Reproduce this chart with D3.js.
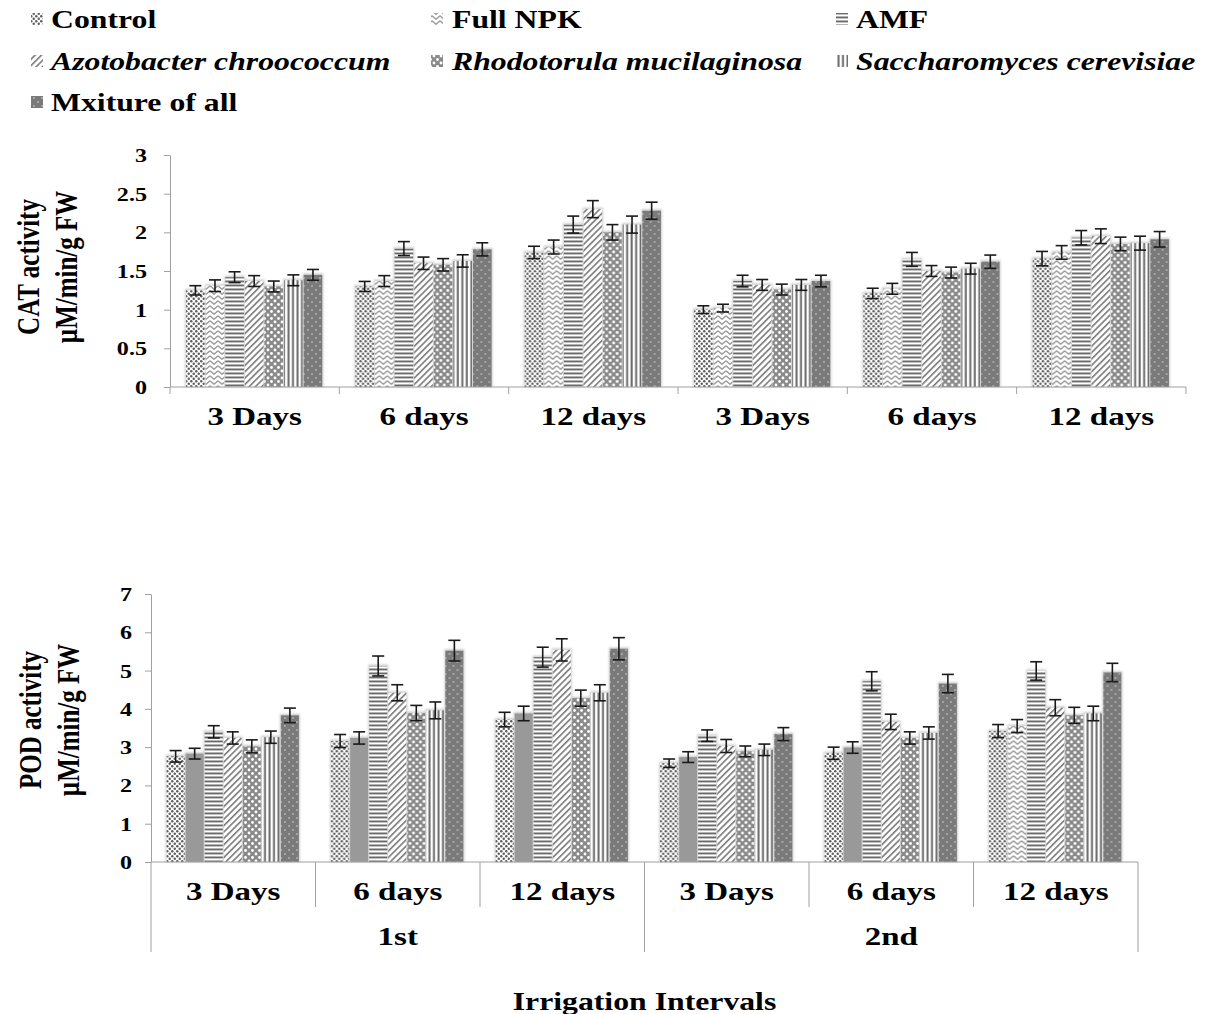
<!DOCTYPE html>
<html>
<head>
<meta charset="utf-8">
<script src="https://d3js.org/d3.v7.min.js"></script>
<style>
  body { margin: 0; background: #fff; }
  text { font-family: "Liberation Serif", "Times New Roman", serif; font-weight: bold; fill: #000; }
</style>
</head>
<body>
<div id="my_dataviz"></div>
<script>
// ---- data ----
const series = ["Control", "Full NPK", "AMF", "Azotobacter chroococcum",
  "Rhodotorula mucilaginosa", "Saccharomyces cerevisiae", "Mxiture of all"];
const italicSeries = ["Azotobacter chroococcum", "Rhodotorula mucilaginosa", "Saccharomyces cerevisiae"];
const intervals = ["3 Days", "6 days", "12 days", "3 Days", "6 days", "12 days"];
const irrigations = ["1st", "2nd"];
const xTitle = "Irrigation Intervals";

const catTicks = [0, 0.5, 1, 1.5, 2, 2.5, 3];
const podTicks = [0, 1, 2, 3, 4, 5, 6, 7];

// one row per interval, one value per series
const catValues = [
  [1.25, 1.31, 1.42, 1.37, 1.30, 1.38, 1.45],
  [1.30, 1.37, 1.79, 1.60, 1.58, 1.63, 1.78],
  [1.74, 1.81, 2.10, 2.30, 2.00, 2.10, 2.28],
  [1.00, 1.02, 1.37, 1.32, 1.26, 1.32, 1.37],
  [1.21, 1.27, 1.65, 1.50, 1.48, 1.53, 1.62],
  [1.66, 1.74, 1.93, 1.95, 1.85, 1.86, 1.91]
];
const catErrors = [
  [0.06, 0.075, 0.07, 0.07, 0.07, 0.07, 0.07],
  [0.065, 0.07, 0.09, 0.08, 0.08, 0.08, 0.085],
  [0.08, 0.09, 0.11, 0.11, 0.10, 0.11, 0.11],
  [0.05, 0.05, 0.075, 0.07, 0.07, 0.07, 0.075],
  [0.067, 0.07, 0.09, 0.07, 0.07, 0.07, 0.086],
  [0.093, 0.088, 0.093, 0.095, 0.088, 0.09, 0.10]
];
const podValues = [
  [2.76, 2.83, 3.40, 3.24, 3.02, 3.26, 3.83],
  [3.16, 3.24, 5.12, 4.42, 3.89, 3.96, 5.52],
  [3.72, 3.88, 5.35, 5.54, 4.28, 4.42, 5.57],
  [2.58, 2.74, 3.30, 3.03, 2.89, 2.93, 3.34],
  [2.84, 2.99, 4.72, 3.66, 3.24, 3.37, 4.66],
  [3.42, 3.55, 4.99, 4.03, 3.83, 3.88, 4.95]
];
const podErrors = [
  [0.15, 0.14, 0.16, 0.16, 0.17, 0.16, 0.19],
  [0.17, 0.16, 0.26, 0.21, 0.20, 0.22, 0.27],
  [0.19, 0.19, 0.26, 0.29, 0.21, 0.21, 0.29],
  [0.11, 0.14, 0.15, 0.17, 0.14, 0.15, 0.17],
  [0.16, 0.15, 0.25, 0.20, 0.16, 0.16, 0.24],
  [0.17, 0.17, 0.24, 0.21, 0.21, 0.19, 0.24]
];

// the picture is stretched sideways, so text gets the same stretch
const SX = 1.27;
const axisGrey = "#a0a0a0";

const svg = d3.select("#my_dataviz")
  .append("svg")
    .attr("width", 1209)
    .attr("height", 1014);

// ---- fill patterns ----
const defs = svg.append("defs");
const patIds = ["p-control", "p-npk", "p-amf", "p-azoto", "p-rhodo", "p-sacch", "p-mix"];

function pattern(id, w, h, bg) {
  const p = defs.append("pattern").attr("id", id)
    .attr("patternUnits", "userSpaceOnUse").attr("width", w).attr("height", h);
  p.append("rect").attr("width", w).attr("height", h).attr("fill", bg);
  return p;
}
let p = pattern("p-control", 5, 5, "#fff");
p.append("circle").attr("cx", 1.25).attr("cy", 1.25).attr("r", 1.25).attr("fill", "#5e5e5e");
p.append("circle").attr("cx", 3.75).attr("cy", 3.75).attr("r", 1.25).attr("fill", "#5e5e5e");

p = pattern("p-npk", 8, 5, "#fff");
p.append("path").attr("d", "M0,0.8 L4,4.2 L8,0.8").attr("fill", "none")
  .attr("stroke", "#9c9c9c").attr("stroke-width", 1.5);

p = pattern("p-amf", 4, 4, "#fff");
p.append("rect").attr("y", 0.5).attr("width", 4).attr("height", 1.9).attr("fill", "#6a6a6a");

p = pattern("p-azoto", 4.5, 4.5, "#fff").attr("patternTransform", "rotate(45)");
p.append("rect").attr("width", 1.6).attr("height", 4.5).attr("fill", "#7a7a7a");

p = pattern("p-rhodo", 7, 7, "#8a8a8a");
[[0, 0], [7, 0], [0, 7], [7, 7], [3.5, 3.5]].forEach(c => {
  p.append("circle").attr("cx", c[0]).attr("cy", c[1]).attr("r", 1.4).attr("fill", "#fff");
});

p = pattern("p-sacch", 4.5, 4, "#fff");
p.append("rect").attr("x", 0.5).attr("width", 2).attr("height", 4).attr("fill", "#6a6a6a");

p = pattern("p-mix", 8, 8, "#7a7a7a");
p.append("circle").attr("cx", 2).attr("cy", 2).attr("r", 0.8).attr("fill", "#d8d8d8");
p.append("circle").attr("cx", 6).attr("cy", 6).attr("r", 0.8).attr("fill", "#d8d8d8");

defs.append("filter").attr("id", "glow").attr("x", "-20%").attr("y", "-20%")
    .attr("width", "140%").attr("height", "140%")
  .append("feGaussianBlur").attr("stdDeviation", 1.3);

function addText(g, str, x, y, size, anchor, italic) {
  return g.append("text")
    .attr("transform", `translate(${x},${y}) scale(${SX},1)`)
    .attr("text-anchor", anchor)
    .style("font-size", size + "px")
    .style("font-style", italic ? "italic" : "normal")
    .text(str);
}

// ---- legend ----
const legend = svg.append("g");
const legendCols = [31, 431, 836];
const legendTextX = [51, 452, 856];
const legendRows = [28, 70, 111];
series.forEach((s, i) => {
  const col = i === 6 ? 0 : i % 3;
  const row = Math.floor(i / 3);
  legend.append("rect")
    .attr("x", legendCols[col]).attr("y", legendRows[row] - 15)
    .attr("width", 12).attr("height", 12)
    .attr("fill", `url(#${patIds[i]})`);
  addText(legend, s, legendTextX[col], legendRows[row], 25, "start", italicSeries.includes(s));
});

// ---- one panel ----
function drawPanel(cfg) {
  const g = svg.append("g");
  const x0 = d3.scaleBand().domain(d3.range(intervals.length)).range(cfg.xRange);
  const x1 = d3.scaleBand().domain(series).range([0, x0.bandwidth()])
    .paddingOuter(0.82).paddingInner(0);
  const y = d3.scaleLinear().domain([0, cfg.yMax]).range(cfg.yRange);
  const y0 = y(0);

  // y axis
  const yAxis = g.append("g")
    .attr("transform", `translate(${cfg.xRange[0]},0)`)
    .call(d3.axisLeft(y).tickValues(cfg.ticks).tickSize(6).tickSizeOuter(0).tickFormat(d => d));
  yAxis.select(".domain").attr("stroke", axisGrey);
  yAxis.selectAll(".tick line").attr("stroke", axisGrey);
  yAxis.selectAll(".tick text")
    .attr("x", null).attr("dy", "0.34em")
    .attr("transform", `translate(${-cfg.labelGap},0) scale(${SX},1)`)
    .style("font-size", "19px")
    .style("font-family", null);

  // bars
  const fills = (si, ci) => (cfg.solidNpk && si === 1 && ci < 5) ? "#999999" : `url(#${patIds[si]})`;
  const bw = x1.bandwidth();
  cfg.values.forEach((row, ci) => {
    const cg = g.append("g").attr("transform", `translate(${x0(ci)},0)`);
    cg.selectAll("rect.glow")
      .data(row)
      .join("rect")
        .attr("class", "glow")
        .attr("x", (d, si) => x1(series[si]) - 1)
        .attr("y", d => y(d) - 1.5)
        .attr("width", bw + 1)
        .attr("height", d => y0 - y(d) + 1.5)
        .attr("fill", "#cfcfcf")
        .attr("filter", "url(#glow)");
    cg.selectAll("rect.bar")
      .data(row)
      .join("rect")
        .attr("class", "bar")
        .attr("x", (d, si) => x1(series[si]))
        .attr("y", d => y(d))
        .attr("width", bw - 1)
        .attr("height", d => y0 - y(d))
        .attr("fill", (d, si) => fills(si, ci));
    // error bars
    row.forEach((v, si) => {
      const e = cfg.errors[ci][si];
      const cx = x1(series[si]) + (bw - 1) / 2;
      const eg = cg.append("g").attr("stroke", "#1a1a1a").attr("stroke-width", 1.6);
      eg.append("line").attr("x1", cx).attr("x2", cx).attr("y1", y(v + e)).attr("y2", y(v - e));
      eg.append("line").attr("x1", cx - 6).attr("x2", cx + 6).attr("y1", y(v + e)).attr("y2", y(v + e));
      eg.append("line").attr("x1", cx - 6).attr("x2", cx + 6).attr("y1", y(v - e)).attr("y2", y(v - e));
    });
  });

  // category axis
  g.append("line")
    .attr("x1", cfg.xRange[0]).attr("x2", cfg.xRange[1])
    .attr("y1", y0).attr("y2", y0)
    .attr("stroke", axisGrey);
  d3.range(intervals.length + 1).forEach(i => {
    const bx = i < intervals.length ? x0(i) : cfg.xRange[1];
    const len = cfg.multiLevel ? (i % 3 === 0 ? 90 : 45) : 7;
    g.append("line")
      .attr("x1", bx).attr("x2", bx).attr("y1", y0).attr("y2", y0 + len)
      .attr("stroke", axisGrey);
  });
  intervals.forEach((t, i) => {
    addText(g, t, x0(i) + x0.bandwidth() / 2, y0 + 38, 26, "middle", false);
  });
  if (cfg.multiLevel) {
    irrigations.forEach((t, k) => {
      const xc = (x0(k * 3) + (k === 0 ? x0(3) : cfg.xRange[1])) / 2;
      addText(g, t, xc, y0 + 83, 26, "middle", false);
    });
    addText(g, xTitle, (cfg.xRange[0] + cfg.xRange[1]) / 2, 1010, 25, "middle", false);
  }

  // y title, two lines
  cfg.yTitle.forEach((t, k) => {
    g.append("text")
      .attr("transform", `translate(${cfg.titleX[k]},${cfg.titleY}) scale(${SX},1) rotate(-90)`)
      .attr("text-anchor", "middle")
      .style("font-size", "25px")
      .text(t);
  });
}

drawPanel({
  values: catValues, errors: catErrors, yMax: 3, ticks: catTicks,
  xRange: [170, 1186], yRange: [387, 155], labelGap: 23,
  multiLevel: false, solidNpk: false,
  yTitle: ["CAT activity", "\u00b5M/min/g FW"], titleX: [39, 77], titleY: 267
});

drawPanel({
  values: podValues, errors: podErrors, yMax: 7, ticks: podTicks,
  xRange: [151, 1138], yRange: [862, 594], labelGap: 19,
  multiLevel: true, solidNpk: true,
  yTitle: ["POD activity", "\u00b5M/min/g FW"], titleX: [41, 79], titleY: 720
});
</script>
</body>
</html>
